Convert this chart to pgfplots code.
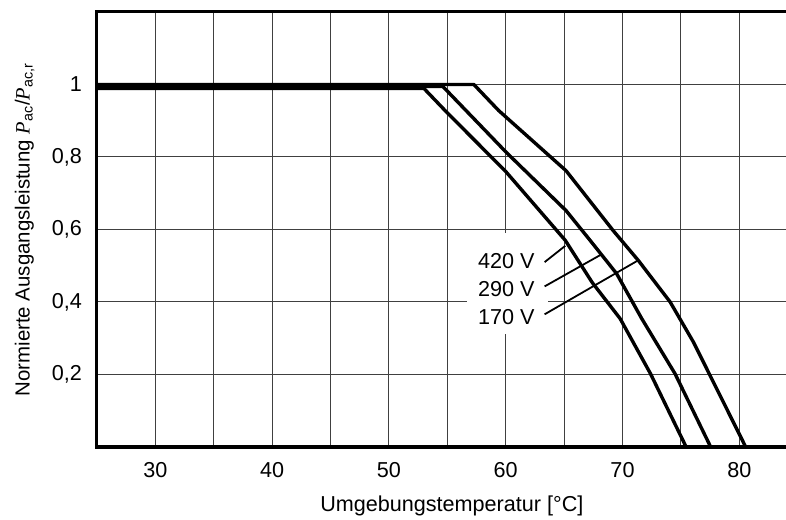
\documentclass[border=0pt]{standalone}
\usepackage{fontspec}
\setmainfont{Liberation Sans}
\newfontfamily\tnr{Liberation Serif}
\usepackage{pgfplots}
\pgfplotsset{compat=1.18}

\newcommand{\Pit}{{\tnr\itshape P}}
\tikzset{curve/.style={black, line width=1.7pt, line join=round}}

\begin{document}
\begin{tikzpicture}[font=\fontsize{10.8}{13}\selectfont]
\begin{axis}[
  scale only axis,
  width=344.5pt, height=217.5pt,
  xmin=25, xmax=84, ymin=0, ymax=1.2,
  clip=false,
  xtick={30,40,50,60,70,80},
  minor xtick={35,45,55,65,75},
  ytick={0.2,0.4,0.6,0.8,1},
  grid=both,
  grid style={line width=0.5pt, black!75},
  minor grid style={line width=0.5pt, black!75},
  major tick length=0pt, minor tick length=0pt,
  axis line style={draw=none},
  /pgf/number format/.cd, use comma, assume math mode=true,
  /pgfplots/.cd,
  xticklabel style={yshift=-4pt},
  yticklabel style={xshift=-4pt},
  xlabel={Umgebungstemperatur [°C]},
  xlabel style={at={(axis description cs:0.515,-0.135)}, anchor=center},
  ylabel={Normierte Ausgangsleistung \Pit\textsubscript{ac}/\Pit\textsubscript{ac,r}},
  ylabel style={at={(axis description cs:-0.105,0.5)}, anchor=center,
    font=\fontsize{10.2}{12}\selectfont},
]
% label area cleared of grid
\fill[white] (axis cs:56.7,0.311) rectangle (axis cs:63.65,0.589);

% 420 V
\addplot[curve] coordinates {(25,0.989) (53.0,0.989) (54.9,0.925) (60.0,0.760) (65.1,0.570)
  (67.4,0.454) (69.8,0.354) (72.4,0.202) (75.45,0)};
% 290 V
\addplot[curve] coordinates {(25,0.995) (54.6,0.995) (60.04,0.813) (65.17,0.652) (67.25,0.569)
  (69.5,0.478) (71.65,0.354) (74.5,0.202) (77.55,0)};
% 170 V
\addplot[curve] coordinates {(25,1.0) (57.27,1.0) (59.4,0.928) (65.17,0.762) (69.2,0.597)
  (71.37,0.514) (74.08,0.400) (76.08,0.289) (80.55,0)};

\draw[line width=0.9pt] (axis cs:63.33,0.510) -- (axis cs:65.1,0.555);
\draw[line width=0.9pt] (axis cs:63.33,0.443) -- (axis cs:68.18,0.531);
\draw[line width=0.9pt] (axis cs:63.33,0.366) -- (axis cs:71.4,0.516);
\node[anchor=east, inner sep=0pt] at (axis cs:62.5,0.5125) {420 V};
\node[anchor=east, inner sep=0pt] at (axis cs:62.5,0.435) {290 V};
\node[anchor=east, inner sep=0pt] at (axis cs:62.5,0.358) {170 V};

\draw[line width=1.5pt] (rel axis cs:1,1) -- (rel axis cs:0,1) -- (rel axis cs:0,0) -- (rel axis cs:1,0);
\end{axis}
\pgfresetboundingbox
\path (-48.5pt,-36pt) rectangle (344.5pt,223.5pt);
\end{tikzpicture}
\end{document}
